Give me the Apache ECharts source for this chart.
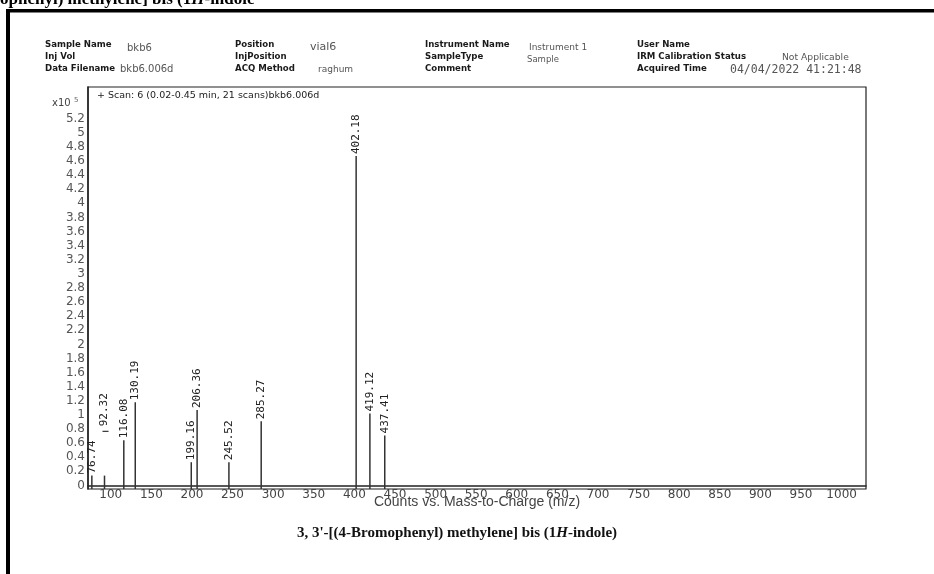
<!DOCTYPE html>
<html>
<head>
<meta charset="utf-8">
<script src="https://cdn.jsdelivr.net/npm/echarts@6/dist/echarts.min.js"></script>
<style>
html,body{margin:0;padding:0;background:#fff;}
#chart{width:934px;height:574px;}
</style>
</head>
<body>
<div id="chart"></div>
<script>
// ---- data ----
const mzValues = [76.74, 92.32, 116.08, 130.19, 199.16, 206.36, 245.52, 285.27, 402.18, 419.12, 437.41];
const intensities = [0.14, 0.14, 0.64, 1.18, 0.33, 1.07, 0.33, 0.91, 4.67, 1.02, 0.71]; // x10^5 counts
const labelLevels = [0.14, 0.81, 0.64, 1.18, 0.33, 1.07, 0.33, 0.91, 4.67, 1.02, 0.71];
const peakLabels = ['76.74', '92.32', '116.08', '130.19', '199.16', '206.36', '245.52', '285.27', '402.18', '419.12', '437.41'];
const xTicks = [100, 150, 200, 250, 300, 350, 400, 450, 500, 550, 600, 650, 700, 750, 800, 850, 900, 950, 1000];
const yTicks = [0, 0.2, 0.4, 0.6, 0.8, 1, 1.2, 1.4, 1.6, 1.8, 2, 2.2, 2.4, 2.6, 2.8, 3, 3.2, 3.4, 3.6, 3.8, 4, 4.2, 4.4, 4.6, 4.8, 5, 5.2];

const X_MIN = 72, X_MAX = 1030, Y_MIN = -0.05, Y_MAX = 5.65;

const chart = echarts.init(document.getElementById('chart'), null, {renderer: 'canvas'});

const headerLabels = [
  ['Sample Name', 45, 45], ['Inj Vol', 45, 57], ['Data Filename', 45, 69],
  ['Position', 235, 45], ['InjPosition', 235, 57], ['ACQ Method', 235, 69],
  ['Instrument Name', 425, 45], ['SampleType', 425, 57], ['Comment', 425, 69],
  ['User Name', 637, 45], ['IRM Calibration Status', 637, 57], ['Acquired Time', 637, 69]
];
const headerValues = [
  ['bkb6', 127, 48, '10px "DejaVu Sans"'],
  ['bkb6.006d', 120, 69, '10px "DejaVu Sans"'],
  ['vial6', 310, 47, '11px "DejaVu Sans"'],
  ['raghum', 318, 70, '9px "DejaVu Sans"'],
  ['Instrument 1', 529, 48, '9px "DejaVu Sans"'],
  ['Sample', 527, 60, '8.5px "DejaVu Sans"'],
  ['Not Applicable', 782, 58, '9.2px "DejaVu Sans"'],
  ['04/04/2022 41:21:48', 730, 70, '11.5px "DejaVu Sans Mono"']
];

const graphics = [];
// outer frame (top + left thick lines)
graphics.push({type: 'rect', shape: {x: 6, y: 9, width: 940, height: 3.5}, style: {fill: '#000'}});
graphics.push({type: 'rect', shape: {x: 6, y: 9, width: 4, height: 580}, style: {fill: '#000'}});
// cut-off heading at the very top
graphics.push({
  type: 'text', x: 0, y: -8.5,
  style: {
    text: '{b|ophenyl) methylene] bis (1}{i|H}{b|-indole}',
    rich: {
      b: {font: 'bold 17px "Liberation Serif"', fill: '#000'},
      i: {font: 'italic bold 17px "Liberation Serif"', fill: '#000'}
    },
    verticalAlign: 'top', align: 'left'
  }
});
headerLabels.forEach(h => graphics.push({
  type: 'text', x: h[1], y: h[2],
  style: {text: h[0], font: 'bold 8.6px "DejaVu Sans"', fill: '#1a1a1a', align: 'left', verticalAlign: 'middle'}
}));
headerValues.forEach(h => graphics.push({
  type: 'text', x: h[1], y: h[2],
  style: {text: h[0], font: h[3], fill: '#555', align: 'left', verticalAlign: 'middle'}
}));
// y scale factor
graphics.push({
  type: 'text', x: 52, y: 103,
  style: {
    text: '{a|x10} {s|5}',
    rich: {
      a: {font: '10px "DejaVu Sans"', fill: '#444'},
      s: {font: '7px "DejaVu Sans"', fill: '#666', verticalAlign: 'top', padding: [0, 0, 6, 0]}
    },
    align: 'left', verticalAlign: 'middle'
  }
});
// scan label inside the plot
graphics.push({
  type: 'text', x: 97, y: 96,
  style: {text: '+ Scan: 6 (0.02-0.45 min, 21 scans)bkb6.006d', font: '9.5px "DejaVu Sans"', fill: '#222', align: 'left', verticalAlign: 'middle'}
});
// caption
graphics.push({
  type: 'text', x: 457, y: 533,
  style: {
    text: '{b|3, 3\'-[(4-Bromophenyl) methylene] bis (1}{i|H}{b|-indole)}',
    rich: {
      b: {font: 'bold 15px "Liberation Serif"', fill: '#111'},
      i: {font: 'italic bold 15px "Liberation Serif"', fill: '#111'}
    },
    align: 'center', verticalAlign: 'middle'
  }
});

const option = {
  animation: false,
  backgroundColor: '#fff',
  grid: {left: 88, right: 68, top: 87, bottom: 85, show: true, borderColor: '#222', borderWidth: 1.2, backgroundColor: 'transparent'},
  xAxis: {
    type: 'value', min: X_MIN, max: X_MAX,
    name: 'Counts vs. Mass-to-Charge (m/z)', nameLocation: 'middle', nameGap: 6, nameMoveOverlap: false,
    nameTextStyle: {fontFamily: 'Liberation Sans', fontSize: 14, color: '#444'},
    axisLine: {show: true, lineStyle: {color: '#222', width: 1.5}},
    axisTick: {show: false},
    splitLine: {show: false},
    axisLabel: {customValues: xTicks, margin: 0, fontFamily: 'DejaVu Sans', fontSize: 12, color: '#444', formatter: v => String(v)}
  },
  yAxis: {
    type: 'value', min: Y_MIN, max: Y_MAX,
    axisLine: {show: true, lineStyle: {color: '#222', width: 1.5}},
    axisTick: {show: false},
    splitLine: {show: false},
    axisLabel: {customValues: yTicks, margin: 3, fontFamily: 'DejaVu Sans', fontSize: 12, color: '#555', formatter: v => String(+(+v).toFixed(1))}
  },
  series: [{
    type: 'custom',
    coordinateSystem: 'cartesian2d',
    clip: false,
    encode: {x: 0, y: 1},
    data: mzValues.map((m, i) => [m, intensities[i], labelLevels[i], i]),
    renderItem: function (params, api) {
      const x = api.value(0), y = api.value(1), ly = api.value(2), idx = api.value(3);
      const base = api.coord([x, Y_MIN]);
      const top = api.coord([x, y]);
      const lab = api.coord([x, ly]);
      const children = [
        {type: 'line', shape: {x1: base[0], y1: base[1], x2: top[0], y2: top[1]}, style: {stroke: '#333', lineWidth: 1.5}},
        {type: 'text', x: lab[0], y: lab[1] - 2, rotation: Math.PI / 2,
          style: {text: peakLabels[idx], font: '11px "DejaVu Sans Mono"', fill: '#222', align: 'left', verticalAlign: 'middle'}}
      ];
      if (ly !== y) {
        children.push({type: 'line', shape: {x1: lab[0] - 2, y1: lab[1] + 3, x2: lab[0] + 4, y2: lab[1] + 3}, style: {stroke: '#333', lineWidth: 1.2}});
      }
      return {type: 'group', children: children};
    }
  }],
  graphic: graphics
};
chart.setOption(option);
</script>
</body>
</html>
